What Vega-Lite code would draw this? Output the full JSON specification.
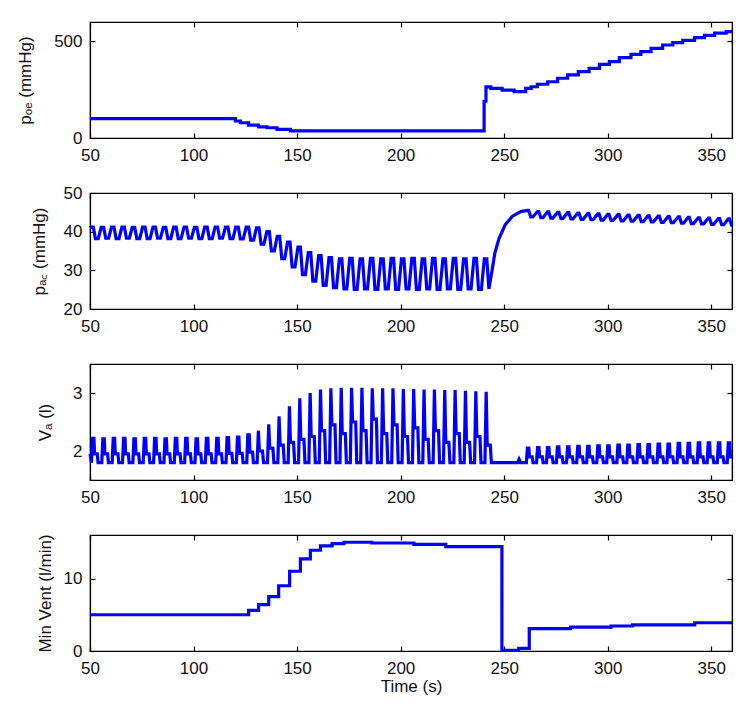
{
  "$schema": "https://vega.github.io/schema/vega-lite/v6.json",
  "padding": {"left": 16, "top": 20, "right": 5, "bottom": 5},
  "spacing": 55,
  "bounds": "flush",
  "config": {
    "axis": {"domainColor": "#000", "domainWidth": 1.2, "tickColor": "#000", "tickSize": -5, "tickWidth": 1.2, "grid": false, "labelFont": "Liberation Sans", "labelFontSize": 17, "labelColor": "#111", "labelPadding": 13, "labelFlush": false, "labelOverlap": false, "titleFont": "Liberation Sans", "titleFontSize": 17, "titleFontWeight": "normal", "titleColor": "#111"},
    "view": {"stroke": "#000", "strokeWidth": 1.2},
    "line": {"color": "#0000ff", "strokeWidth": 3.2, "clip": true}
  },
  "vconcat": [
    {
      "width": 642, "height": 116,
      "data": {"values": [
        {"t": 50, "v": 100}, {"t": 120.2, "v": 88}, {"t": 122.6, "v": 79}, {"t": 126.6, "v": 67}, {"t": 131.4, "v": 58}, {"t": 135.5, "v": 53}, {"t": 140.3, "v": 45}, {"t": 146.8, "v": 37},
        {"t": 240.3, "v": 190}, {"t": 241.2, "v": 264}, {"t": 243.5, "v": 257}, {"t": 249, "v": 248}, {"t": 254.8, "v": 240}, {"t": 260.4, "v": 257}, {"t": 263, "v": 265}, {"t": 266, "v": 278}, {"t": 271, "v": 291}, {"t": 275.8, "v": 309}, {"t": 280.6, "v": 326}, {"t": 285.8, "v": 343}, {"t": 291, "v": 360}, {"t": 296, "v": 381}, {"t": 300.8, "v": 395}, {"t": 305.6, "v": 416}, {"t": 311.2, "v": 433}, {"t": 316, "v": 447}, {"t": 320.9, "v": 464}, {"t": 326.5, "v": 481}, {"t": 331.4, "v": 493}, {"t": 336.2, "v": 505}, {"t": 341.9, "v": 519}, {"t": 346.7, "v": 531}, {"t": 351.6, "v": 542}, {"t": 357.2, "v": 550}, {"t": 360, "v": 550}
      ]},
      "layer": [
        {"mark": {"type": "line", "interpolate": "step-after"},
         "encoding": {
           "x": {"field": "t", "type": "quantitative", "scale": {"domain": [50, 360], "nice": false, "zero": false}, "axis": {"values": [50, 100, 150, 200, 250, 300, 350], "title": null, "labelPadding": 14}},
           "y": {"field": "v", "type": "quantitative", "scale": {"domain": [0, 600], "nice": false}, "axis": {"values": [0, 500], "title": "pₒₑ (mmHg)", "titlePadding": 19}}
         }},
        {"mark": {"type": "line", "opacity": 0},
         "encoding": {
           "x": {"field": "t", "type": "quantitative", "axis": {"orient": "top", "labels": false, "title": null, "values": [50, 100, 150, 200, 250, 300, 350]}},
           "y": {"field": "v", "type": "quantitative", "axis": {"orient": "right", "labels": false, "title": null, "values": [0, 500]}}
         }}
      ],
      "resolve": {"axis": {"x": "independent", "y": "independent"}}
    },
    {
      "width": 642, "height": 116,
      "data": {"values": [
        {"t": 50, "v": 41.0},
        {"t": 50.4, "v": 41.2}, {"t": 51.6, "v": 41.2}, {"t": 52.6, "v": 38.2}, {"t": 54.0, "v": 38.2},
        {"t": 55.4, "v": 41.1}, {"t": 56.6, "v": 41.1}, {"t": 57.6, "v": 38.3}, {"t": 59.0, "v": 38.3},
        {"t": 60.4, "v": 41.2}, {"t": 61.6, "v": 41.2}, {"t": 62.6, "v": 38.2}, {"t": 64.0, "v": 38.2},
        {"t": 65.4, "v": 41.2}, {"t": 66.6, "v": 41.2}, {"t": 67.6, "v": 38.3}, {"t": 69.0, "v": 38.3},
        {"t": 70.4, "v": 41.1}, {"t": 71.6, "v": 41.1}, {"t": 72.6, "v": 38.2}, {"t": 74.0, "v": 38.2},
        {"t": 75.4, "v": 41.2}, {"t": 76.6, "v": 41.2}, {"t": 77.6, "v": 38.2}, {"t": 79.0, "v": 38.2},
        {"t": 80.4, "v": 41.2}, {"t": 81.6, "v": 41.2}, {"t": 82.6, "v": 38.3}, {"t": 84.0, "v": 38.3},
        {"t": 85.4, "v": 41.1}, {"t": 86.6, "v": 41.1}, {"t": 87.6, "v": 38.2}, {"t": 89.0, "v": 38.2},
        {"t": 90.4, "v": 41.2}, {"t": 91.6, "v": 41.2}, {"t": 92.6, "v": 38.2}, {"t": 94.0, "v": 38.2},
        {"t": 95.4, "v": 41.2}, {"t": 96.6, "v": 41.2}, {"t": 97.6, "v": 38.3}, {"t": 99.0, "v": 38.3},
        {"t": 100.4, "v": 41.1}, {"t": 101.6, "v": 41.1}, {"t": 102.6, "v": 38.2}, {"t": 104.0, "v": 38.2},
        {"t": 105.4, "v": 41.2}, {"t": 106.6, "v": 41.2}, {"t": 107.6, "v": 38.2}, {"t": 109.0, "v": 38.2},
        {"t": 110.4, "v": 41.2}, {"t": 111.6, "v": 41.2}, {"t": 112.6, "v": 38.3}, {"t": 114.0, "v": 38.3},
        {"t": 115.4, "v": 41.2}, {"t": 116.6, "v": 41.2}, {"t": 117.6, "v": 38.2}, {"t": 119.0, "v": 38.2},
        {"t": 120.4, "v": 41.2}, {"t": 121.6, "v": 41.2}, {"t": 122.6, "v": 38.1}, {"t": 124.0, "v": 38.1},
        {"t": 125.4, "v": 41.2}, {"t": 126.6, "v": 41.2}, {"t": 127.6, "v": 37.8}, {"t": 129.0, "v": 37.8},
        {"t": 130.4, "v": 41.0}, {"t": 131.6, "v": 41.0}, {"t": 132.6, "v": 36.8}, {"t": 134.0, "v": 36.8},
        {"t": 135.4, "v": 40.0}, {"t": 136.6, "v": 40.0}, {"t": 137.6, "v": 35.0}, {"t": 139.0, "v": 35.0},
        {"t": 140.4, "v": 38.8}, {"t": 141.6, "v": 38.8}, {"t": 142.6, "v": 33.0}, {"t": 144.0, "v": 33.0},
        {"t": 145.4, "v": 37.3}, {"t": 146.6, "v": 37.3}, {"t": 147.6, "v": 30.9}, {"t": 149.0, "v": 30.9},
        {"t": 150.4, "v": 36.0}, {"t": 151.6, "v": 36.0}, {"t": 152.6, "v": 28.9}, {"t": 154.0, "v": 28.9},
        {"t": 155.4, "v": 34.6}, {"t": 156.6, "v": 34.6}, {"t": 157.6, "v": 27.2}, {"t": 159.0, "v": 27.2},
        {"t": 160.4, "v": 33.8}, {"t": 161.6, "v": 33.8}, {"t": 162.6, "v": 26.1}, {"t": 164.0, "v": 26.1},
        {"t": 165.4, "v": 33.3}, {"t": 166.6, "v": 33.3}, {"t": 167.6, "v": 25.5}, {"t": 169.0, "v": 25.5},
        {"t": 170.4, "v": 33.0}, {"t": 171.6, "v": 33.0}, {"t": 172.6, "v": 25.2}, {"t": 174.0, "v": 25.2},
        {"t": 175.4, "v": 33.1}, {"t": 176.6, "v": 33.1}, {"t": 177.6, "v": 25.1}, {"t": 179.0, "v": 25.1},
        {"t": 180.4, "v": 33.0}, {"t": 181.6, "v": 33.0}, {"t": 182.6, "v": 25.2}, {"t": 184.0, "v": 25.2},
        {"t": 185.4, "v": 33.1}, {"t": 186.6, "v": 33.1}, {"t": 187.6, "v": 25.1}, {"t": 189.0, "v": 25.1},
        {"t": 190.4, "v": 33.0}, {"t": 191.6, "v": 33.0}, {"t": 192.6, "v": 25.2}, {"t": 194.0, "v": 25.2},
        {"t": 195.4, "v": 33.1}, {"t": 196.6, "v": 33.1}, {"t": 197.6, "v": 25.1}, {"t": 199.0, "v": 25.1},
        {"t": 200.4, "v": 33.0}, {"t": 201.6, "v": 33.0}, {"t": 202.6, "v": 25.2}, {"t": 204.0, "v": 25.2},
        {"t": 205.4, "v": 33.1}, {"t": 206.6, "v": 33.1}, {"t": 207.6, "v": 25.1}, {"t": 209.0, "v": 25.1},
        {"t": 210.4, "v": 33.0}, {"t": 211.6, "v": 33.0}, {"t": 212.6, "v": 25.2}, {"t": 214.0, "v": 25.2},
        {"t": 215.4, "v": 33.1}, {"t": 216.6, "v": 33.1}, {"t": 217.6, "v": 25.1}, {"t": 219.0, "v": 25.1},
        {"t": 220.4, "v": 33.0}, {"t": 221.6, "v": 33.0}, {"t": 222.6, "v": 25.2}, {"t": 224.0, "v": 25.2},
        {"t": 225.4, "v": 33.1}, {"t": 226.6, "v": 33.1}, {"t": 227.6, "v": 25.1}, {"t": 229.0, "v": 25.1},
        {"t": 230.4, "v": 33.0}, {"t": 231.6, "v": 33.0}, {"t": 232.6, "v": 25.2}, {"t": 234.0, "v": 25.2},
        {"t": 235.4, "v": 33.1}, {"t": 236.6, "v": 33.1}, {"t": 237.6, "v": 25.1}, {"t": 239.0, "v": 25.1},
        {"t": 240.4, "v": 33.0}, {"t": 241.6, "v": 33.0}, {"t": 242.6, "v": 25.2},
        {"t": 244, "v": 29.5}, {"t": 245.5, "v": 34.5}, {"t": 247.5, "v": 38.2}, {"t": 250.5, "v": 41.8}, {"t": 254, "v": 44.0}, {"t": 258, "v": 45.2},
        {"t": 261.2, "v": 45.5}, {"t": 261.8, "v": 45.5}, {"t": 262.8, "v": 43.8}, {"t": 263.8, "v": 43.8},
        {"t": 266.1, "v": 45.2}, {"t": 266.7, "v": 45.2}, {"t": 267.7, "v": 43.6}, {"t": 268.7, "v": 43.6},
        {"t": 270.9, "v": 45.1}, {"t": 271.5, "v": 45.1}, {"t": 272.5, "v": 43.5}, {"t": 273.5, "v": 43.5},
        {"t": 275.8, "v": 45.0}, {"t": 276.4, "v": 45.0}, {"t": 277.4, "v": 43.4}, {"t": 278.4, "v": 43.4},
        {"t": 280.6, "v": 44.9}, {"t": 281.2, "v": 44.9}, {"t": 282.2, "v": 43.3}, {"t": 283.2, "v": 43.3},
        {"t": 285.5, "v": 44.8}, {"t": 286.1, "v": 44.8}, {"t": 287.1, "v": 43.2}, {"t": 288.1, "v": 43.2},
        {"t": 290.3, "v": 44.7}, {"t": 290.9, "v": 44.7}, {"t": 291.9, "v": 43.1}, {"t": 292.9, "v": 43.1},
        {"t": 295.2, "v": 44.6}, {"t": 295.8, "v": 44.6}, {"t": 296.8, "v": 43.0}, {"t": 297.8, "v": 43.0},
        {"t": 300.0, "v": 44.5}, {"t": 300.6, "v": 44.5}, {"t": 301.6, "v": 42.9}, {"t": 302.6, "v": 42.9},
        {"t": 304.9, "v": 44.4}, {"t": 305.5, "v": 44.4}, {"t": 306.5, "v": 42.8}, {"t": 307.5, "v": 42.8},
        {"t": 309.7, "v": 44.3}, {"t": 310.3, "v": 44.3}, {"t": 311.3, "v": 42.7}, {"t": 312.3, "v": 42.7},
        {"t": 314.6, "v": 44.2}, {"t": 315.2, "v": 44.2}, {"t": 316.2, "v": 42.6}, {"t": 317.2, "v": 42.6},
        {"t": 319.4, "v": 44.1}, {"t": 320.0, "v": 44.1}, {"t": 321.0, "v": 42.5}, {"t": 322.0, "v": 42.5},
        {"t": 324.3, "v": 44.0}, {"t": 324.9, "v": 44.0}, {"t": 325.9, "v": 42.4}, {"t": 326.9, "v": 42.4},
        {"t": 329.1, "v": 43.9}, {"t": 329.7, "v": 43.9}, {"t": 330.7, "v": 42.3}, {"t": 331.7, "v": 42.3},
        {"t": 334.0, "v": 43.8}, {"t": 334.6, "v": 43.8}, {"t": 335.6, "v": 42.2}, {"t": 336.6, "v": 42.2},
        {"t": 338.8, "v": 43.7}, {"t": 339.4, "v": 43.7}, {"t": 340.4, "v": 42.1}, {"t": 341.4, "v": 42.1},
        {"t": 343.7, "v": 43.6}, {"t": 344.3, "v": 43.6}, {"t": 345.3, "v": 42.0}, {"t": 346.3, "v": 42.0},
        {"t": 348.5, "v": 43.5}, {"t": 349.1, "v": 43.5}, {"t": 350.1, "v": 41.9}, {"t": 351.1, "v": 41.9},
        {"t": 353.4, "v": 43.4}, {"t": 354.0, "v": 43.4}, {"t": 355.0, "v": 41.8}, {"t": 356.0, "v": 41.8},
        {"t": 358.2, "v": 43.3}, {"t": 358.8, "v": 43.3}, {"t": 359.8, "v": 41.7}, {"t": 360, "v": 41.7}
      ]},
      "layer": [
        {"mark": {"type": "line"},
         "encoding": {
           "x": {"field": "t", "type": "quantitative", "sort": null, "scale": {"domain": [50, 360], "nice": false, "zero": false}, "axis": {"values": [50, 100, 150, 200, 250, 300, 350], "title": null, "labelPadding": 14}},
           "y": {"field": "v", "type": "quantitative", "scale": {"domain": [20, 50], "nice": false, "zero": false}, "axis": {"values": [20, 30, 40, 50], "title": "pₐ꜀ (mmHg)", "titlePadding": 15}}
         }},
        {"mark": {"type": "line", "opacity": 0},
         "encoding": {
           "x": {"field": "t", "type": "quantitative", "axis": {"orient": "top", "labels": false, "title": null, "values": [50, 100, 150, 200, 250, 300, 350]}},
           "y": {"field": "v", "type": "quantitative", "axis": {"orient": "right", "labels": false, "title": null, "values": [20, 30, 40, 50]}}
         }}
      ],
      "resolve": {"axis": {"x": "independent", "y": "independent"}}
    },
    {
      "width": 642, "height": 116,
      "data": {"values": [
        {"t": 50, "v": 1.95},
        {"t": 50.7, "v": 1.8}, {"t": 51.2, "v": 2.22}, {"t": 51.9, "v": 2.22}, {"t": 52.2, "v": 1.95}, {"t": 53.5, "v": 1.95}, {"t": 53.9, "v": 1.8},
        {"t": 55.7, "v": 1.8}, {"t": 56.2, "v": 2.21}, {"t": 56.9, "v": 2.21}, {"t": 57.2, "v": 1.95}, {"t": 58.5, "v": 1.95}, {"t": 58.9, "v": 1.8},
        {"t": 60.7, "v": 1.8}, {"t": 61.2, "v": 2.22}, {"t": 61.9, "v": 2.22}, {"t": 62.2, "v": 1.95}, {"t": 63.5, "v": 1.95}, {"t": 63.9, "v": 1.8},
        {"t": 65.7, "v": 1.8}, {"t": 66.2, "v": 2.22}, {"t": 66.9, "v": 2.22}, {"t": 67.2, "v": 1.95}, {"t": 68.5, "v": 1.95}, {"t": 68.9, "v": 1.8},
        {"t": 70.7, "v": 1.8}, {"t": 71.2, "v": 2.21}, {"t": 71.9, "v": 2.21}, {"t": 72.2, "v": 1.95}, {"t": 73.5, "v": 1.95}, {"t": 73.9, "v": 1.8},
        {"t": 75.7, "v": 1.8}, {"t": 76.2, "v": 2.22}, {"t": 76.9, "v": 2.22}, {"t": 77.2, "v": 1.95}, {"t": 78.5, "v": 1.95}, {"t": 78.9, "v": 1.8},
        {"t": 80.7, "v": 1.8}, {"t": 81.2, "v": 2.22}, {"t": 81.9, "v": 2.22}, {"t": 82.2, "v": 1.95}, {"t": 83.5, "v": 1.95}, {"t": 83.9, "v": 1.8},
        {"t": 85.7, "v": 1.8}, {"t": 86.2, "v": 2.21}, {"t": 86.9, "v": 2.21}, {"t": 87.2, "v": 1.95}, {"t": 88.5, "v": 1.95}, {"t": 88.9, "v": 1.8},
        {"t": 90.7, "v": 1.8}, {"t": 91.2, "v": 2.22}, {"t": 91.9, "v": 2.22}, {"t": 92.2, "v": 1.95}, {"t": 93.5, "v": 1.95}, {"t": 93.9, "v": 1.8},
        {"t": 95.7, "v": 1.8}, {"t": 96.2, "v": 2.22}, {"t": 96.9, "v": 2.22}, {"t": 97.2, "v": 1.95}, {"t": 98.5, "v": 1.95}, {"t": 98.9, "v": 1.8},
        {"t": 100.7, "v": 1.8}, {"t": 101.2, "v": 2.21}, {"t": 101.9, "v": 2.21}, {"t": 102.2, "v": 1.95}, {"t": 103.5, "v": 1.95}, {"t": 103.9, "v": 1.8},
        {"t": 105.7, "v": 1.8}, {"t": 106.2, "v": 2.22}, {"t": 106.9, "v": 2.22}, {"t": 107.2, "v": 1.95}, {"t": 108.5, "v": 1.95}, {"t": 108.9, "v": 1.8},
        {"t": 110.7, "v": 1.8}, {"t": 111.2, "v": 2.22}, {"t": 111.9, "v": 2.22}, {"t": 112.2, "v": 1.95}, {"t": 113.5, "v": 1.95}, {"t": 113.9, "v": 1.8},
        {"t": 115.7, "v": 1.8}, {"t": 116.2, "v": 2.23}, {"t": 116.9, "v": 2.23}, {"t": 117.2, "v": 1.96}, {"t": 118.5, "v": 1.96}, {"t": 118.9, "v": 1.8},
        {"t": 120.7, "v": 1.8}, {"t": 121.2, "v": 2.24}, {"t": 121.9, "v": 2.24}, {"t": 122.2, "v": 1.96}, {"t": 123.5, "v": 1.96}, {"t": 123.9, "v": 1.8},
        {"t": 125.7, "v": 1.8}, {"t": 126.2, "v": 2.28}, {"t": 126.9, "v": 2.28}, {"t": 127.2, "v": 1.98}, {"t": 128.5, "v": 1.98}, {"t": 128.9, "v": 1.8},
        {"t": 130.7, "v": 1.8}, {"t": 131.3, "v": 2.35}, {"t": 131.8, "v": 2.0}, {"t": 133.3, "v": 2.0}, {"t": 133.8, "v": 1.8},
        {"t": 135.7, "v": 1.8}, {"t": 136.3, "v": 2.46}, {"t": 136.8, "v": 2.05}, {"t": 138.3, "v": 2.05}, {"t": 138.8, "v": 1.8},
        {"t": 140.7, "v": 1.8}, {"t": 141.3, "v": 2.6}, {"t": 141.8, "v": 2.1}, {"t": 143.3, "v": 2.1}, {"t": 143.8, "v": 1.8},
        {"t": 145.7, "v": 1.8}, {"t": 146.3, "v": 2.77}, {"t": 146.8, "v": 2.15}, {"t": 148.3, "v": 2.15}, {"t": 148.8, "v": 1.8},
        {"t": 150.7, "v": 1.8}, {"t": 151.3, "v": 2.91}, {"t": 151.8, "v": 2.2}, {"t": 153.3, "v": 2.2}, {"t": 153.8, "v": 1.8},
        {"t": 155.7, "v": 1.8}, {"t": 156.3, "v": 3.0}, {"t": 156.8, "v": 2.25}, {"t": 158.3, "v": 2.25}, {"t": 158.8, "v": 1.8},
        {"t": 160.7, "v": 1.8}, {"t": 161.3, "v": 3.06}, {"t": 161.8, "v": 2.35}, {"t": 163.3, "v": 2.35}, {"t": 163.8, "v": 1.8},
        {"t": 165.7, "v": 1.8}, {"t": 166.3, "v": 3.08}, {"t": 166.8, "v": 2.45}, {"t": 168.3, "v": 2.45}, {"t": 168.8, "v": 1.8},
        {"t": 170.7, "v": 1.8}, {"t": 171.3, "v": 3.09}, {"t": 171.8, "v": 2.3}, {"t": 173.3, "v": 2.3}, {"t": 173.8, "v": 1.8},
        {"t": 175.7, "v": 1.8}, {"t": 176.3, "v": 3.09}, {"t": 176.8, "v": 2.5}, {"t": 178.3, "v": 2.5}, {"t": 178.8, "v": 1.8},
        {"t": 180.7, "v": 1.8}, {"t": 181.3, "v": 3.09}, {"t": 181.8, "v": 2.35}, {"t": 183.3, "v": 2.35}, {"t": 183.8, "v": 1.8},
        {"t": 185.7, "v": 1.8}, {"t": 186.3, "v": 3.08}, {"t": 186.8, "v": 2.55}, {"t": 188.3, "v": 2.55}, {"t": 188.8, "v": 1.8},
        {"t": 190.7, "v": 1.8}, {"t": 191.3, "v": 3.08}, {"t": 191.8, "v": 2.3}, {"t": 193.3, "v": 2.3}, {"t": 193.8, "v": 1.8},
        {"t": 195.7, "v": 1.8}, {"t": 196.3, "v": 3.08}, {"t": 196.8, "v": 2.45}, {"t": 198.3, "v": 2.45}, {"t": 198.8, "v": 1.8},
        {"t": 200.7, "v": 1.8}, {"t": 201.3, "v": 3.07}, {"t": 201.8, "v": 2.25}, {"t": 203.3, "v": 2.25}, {"t": 203.8, "v": 1.8},
        {"t": 205.7, "v": 1.8}, {"t": 206.3, "v": 3.07}, {"t": 206.8, "v": 2.4}, {"t": 208.3, "v": 2.4}, {"t": 208.8, "v": 1.8},
        {"t": 210.7, "v": 1.8}, {"t": 211.3, "v": 3.06}, {"t": 211.8, "v": 2.2}, {"t": 213.3, "v": 2.2}, {"t": 213.8, "v": 1.8},
        {"t": 215.7, "v": 1.8}, {"t": 216.3, "v": 3.06}, {"t": 216.8, "v": 2.35}, {"t": 218.3, "v": 2.35}, {"t": 218.8, "v": 1.8},
        {"t": 220.7, "v": 1.8}, {"t": 221.3, "v": 3.05}, {"t": 221.8, "v": 2.15}, {"t": 223.3, "v": 2.15}, {"t": 223.8, "v": 1.8},
        {"t": 225.7, "v": 1.8}, {"t": 226.3, "v": 3.05}, {"t": 226.8, "v": 2.3}, {"t": 228.3, "v": 2.3}, {"t": 228.8, "v": 1.8},
        {"t": 230.7, "v": 1.8}, {"t": 231.3, "v": 3.04}, {"t": 231.8, "v": 2.15}, {"t": 233.3, "v": 2.15}, {"t": 233.8, "v": 1.8},
        {"t": 235.7, "v": 1.8}, {"t": 236.3, "v": 3.03}, {"t": 236.8, "v": 2.25}, {"t": 238.3, "v": 2.25}, {"t": 238.8, "v": 1.8},
        {"t": 240.7, "v": 1.8}, {"t": 241.3, "v": 3.02}, {"t": 241.8, "v": 2.1}, {"t": 243.3, "v": 2.1}, {"t": 243.8, "v": 1.8},
        {"t": 256.5, "v": 1.8}, {"t": 257.2, "v": 1.86}, {"t": 258, "v": 1.8},
        {"t": 260.7, "v": 1.8}, {"t": 261.2, "v": 2.05}, {"t": 261.9, "v": 2.05}, {"t": 262.2, "v": 1.9}, {"t": 263.5, "v": 1.9}, {"t": 263.9, "v": 1.8},
        {"t": 265.6, "v": 1.8}, {"t": 266.1, "v": 2.06}, {"t": 266.8, "v": 2.06}, {"t": 267.1, "v": 1.9}, {"t": 268.4, "v": 1.9}, {"t": 268.8, "v": 1.8},
        {"t": 270.4, "v": 1.8}, {"t": 270.9, "v": 2.06}, {"t": 271.6, "v": 2.06}, {"t": 271.9, "v": 1.9}, {"t": 273.2, "v": 1.9}, {"t": 273.6, "v": 1.8},
        {"t": 275.2, "v": 1.8}, {"t": 275.7, "v": 2.07}, {"t": 276.4, "v": 2.07}, {"t": 276.7, "v": 1.9}, {"t": 278.0, "v": 1.9}, {"t": 278.4, "v": 1.8},
        {"t": 280.1, "v": 1.8}, {"t": 280.6, "v": 2.07}, {"t": 281.3, "v": 2.07}, {"t": 281.6, "v": 1.9}, {"t": 282.9, "v": 1.9}, {"t": 283.3, "v": 1.8},
        {"t": 285.0, "v": 1.8}, {"t": 285.5, "v": 2.08}, {"t": 286.2, "v": 2.08}, {"t": 286.5, "v": 1.9}, {"t": 287.8, "v": 1.9}, {"t": 288.2, "v": 1.8},
        {"t": 289.8, "v": 1.8}, {"t": 290.3, "v": 2.08}, {"t": 291.0, "v": 2.08}, {"t": 291.3, "v": 1.9}, {"t": 292.6, "v": 1.9}, {"t": 293.0, "v": 1.8},
        {"t": 294.7, "v": 1.8}, {"t": 295.2, "v": 2.09}, {"t": 295.9, "v": 2.09}, {"t": 296.2, "v": 1.9}, {"t": 297.5, "v": 1.9}, {"t": 297.9, "v": 1.8},
        {"t": 299.5, "v": 1.8}, {"t": 300.0, "v": 2.09}, {"t": 300.7, "v": 2.09}, {"t": 301.0, "v": 1.9}, {"t": 302.3, "v": 1.9}, {"t": 302.7, "v": 1.8},
        {"t": 304.4, "v": 1.8}, {"t": 304.9, "v": 2.1}, {"t": 305.6, "v": 2.1}, {"t": 305.9, "v": 1.9}, {"t": 307.2, "v": 1.9}, {"t": 307.6, "v": 1.8},
        {"t": 309.2, "v": 1.8}, {"t": 309.7, "v": 2.1}, {"t": 310.4, "v": 2.1}, {"t": 310.7, "v": 1.9}, {"t": 312.0, "v": 1.9}, {"t": 312.4, "v": 1.8},
        {"t": 314.1, "v": 1.8}, {"t": 314.6, "v": 2.11}, {"t": 315.3, "v": 2.11}, {"t": 315.6, "v": 1.9}, {"t": 316.9, "v": 1.9}, {"t": 317.3, "v": 1.8},
        {"t": 318.9, "v": 1.8}, {"t": 319.4, "v": 2.11}, {"t": 320.1, "v": 2.11}, {"t": 320.4, "v": 1.9}, {"t": 321.7, "v": 1.9}, {"t": 322.1, "v": 1.8},
        {"t": 323.8, "v": 1.8}, {"t": 324.3, "v": 2.12}, {"t": 325.0, "v": 2.12}, {"t": 325.3, "v": 1.9}, {"t": 326.6, "v": 1.9}, {"t": 327.0, "v": 1.8},
        {"t": 328.6, "v": 1.8}, {"t": 329.1, "v": 2.12}, {"t": 329.8, "v": 2.12}, {"t": 330.1, "v": 1.9}, {"t": 331.4, "v": 1.9}, {"t": 331.8, "v": 1.8},
        {"t": 333.5, "v": 1.8}, {"t": 334.0, "v": 2.13}, {"t": 334.7, "v": 2.13}, {"t": 335.0, "v": 1.9}, {"t": 336.3, "v": 1.9}, {"t": 336.7, "v": 1.8},
        {"t": 338.3, "v": 1.8}, {"t": 338.8, "v": 2.13}, {"t": 339.5, "v": 2.13}, {"t": 339.8, "v": 1.9}, {"t": 341.1, "v": 1.9}, {"t": 341.5, "v": 1.8},
        {"t": 343.2, "v": 1.8}, {"t": 343.7, "v": 2.14}, {"t": 344.4, "v": 2.14}, {"t": 344.7, "v": 1.9}, {"t": 346.0, "v": 1.9}, {"t": 346.4, "v": 1.8},
        {"t": 348.0, "v": 1.8}, {"t": 348.5, "v": 2.14}, {"t": 349.2, "v": 2.14}, {"t": 349.5, "v": 1.9}, {"t": 350.8, "v": 1.9}, {"t": 351.2, "v": 1.8},
        {"t": 352.9, "v": 1.8}, {"t": 353.4, "v": 2.14}, {"t": 354.1, "v": 2.14}, {"t": 354.4, "v": 1.9}, {"t": 355.7, "v": 1.9}, {"t": 356.1, "v": 1.8},
        {"t": 357.7, "v": 1.8}, {"t": 358.2, "v": 2.14}, {"t": 358.9, "v": 2.14}, {"t": 359.2, "v": 1.9}, {"t": 360, "v": 1.9}
      ]},
      "layer": [
        {"mark": {"type": "line"},
         "encoding": {
           "x": {"field": "t", "type": "quantitative", "sort": null, "scale": {"domain": [50, 360], "nice": false, "zero": false}, "axis": {"values": [50, 100, 150, 200, 250, 300, 350], "title": null, "labelPadding": 14}},
           "y": {"field": "v", "type": "quantitative", "scale": {"domain": [1.5, 3.5], "nice": false, "zero": false}, "axis": {"values": [2, 3], "title": "Vₐ (l)", "titlePadding": 18}}
         }},
        {"mark": {"type": "line", "opacity": 0},
         "encoding": {
           "x": {"field": "t", "type": "quantitative", "axis": {"orient": "top", "labels": false, "title": null, "values": [50, 100, 150, 200, 250, 300, 350]}},
           "y": {"field": "v", "type": "quantitative", "axis": {"orient": "right", "labels": false, "title": null, "values": [2, 3]}}
         }}
      ],
      "resolve": {"axis": {"x": "independent", "y": "independent"}}
    },
    {
      "width": 642, "height": 116,
      "data": {"values": [
        {"t": 50, "v": 5.0}, {"t": 126.6, "v": 5.6}, {"t": 131.4, "v": 6.4}, {"t": 136.3, "v": 7.5}, {"t": 141.1, "v": 9.0}, {"t": 146.4, "v": 11.0}, {"t": 151.6, "v": 12.7}, {"t": 156.4, "v": 13.9}, {"t": 161.3, "v": 14.5}, {"t": 166.9, "v": 14.8}, {"t": 172.6, "v": 15.0},
        {"t": 186, "v": 14.9}, {"t": 206.4, "v": 14.7}, {"t": 221.8, "v": 14.4}, {"t": 248.9, "v": 0.1}, {"t": 257, "v": 0.35}, {"t": 262.1, "v": 3.1}, {"t": 282, "v": 3.3}, {"t": 301.6, "v": 3.45}, {"t": 312, "v": 3.6}, {"t": 342, "v": 3.9}, {"t": 360, "v": 3.9}
      ]},
      "layer": [
        {"mark": {"type": "line", "interpolate": "step-after"},
         "encoding": {
           "x": {"field": "t", "type": "quantitative", "scale": {"domain": [50, 360], "nice": false, "zero": false}, "axis": {"values": [50, 100, 150, 200, 250, 300, 350], "title": "Time (s)", "titlePadding": 2, "labelPadding": 14}},
           "y": {"field": "v", "type": "quantitative", "scale": {"domain": [0, 16], "nice": false}, "axis": {"values": [0, 10], "title": "Min Vent (l/min)", "titlePadding": 9}}
         }},
        {"mark": {"type": "line", "opacity": 0},
         "encoding": {
           "x": {"field": "t", "type": "quantitative", "axis": {"orient": "top", "labels": false, "title": null, "values": [50, 100, 150, 200, 250, 300, 350]}},
           "y": {"field": "v", "type": "quantitative", "axis": {"orient": "right", "labels": false, "title": null, "values": [0, 10]}}
         }}
      ],
      "resolve": {"axis": {"x": "independent", "y": "independent"}}
    }
  ]
}
